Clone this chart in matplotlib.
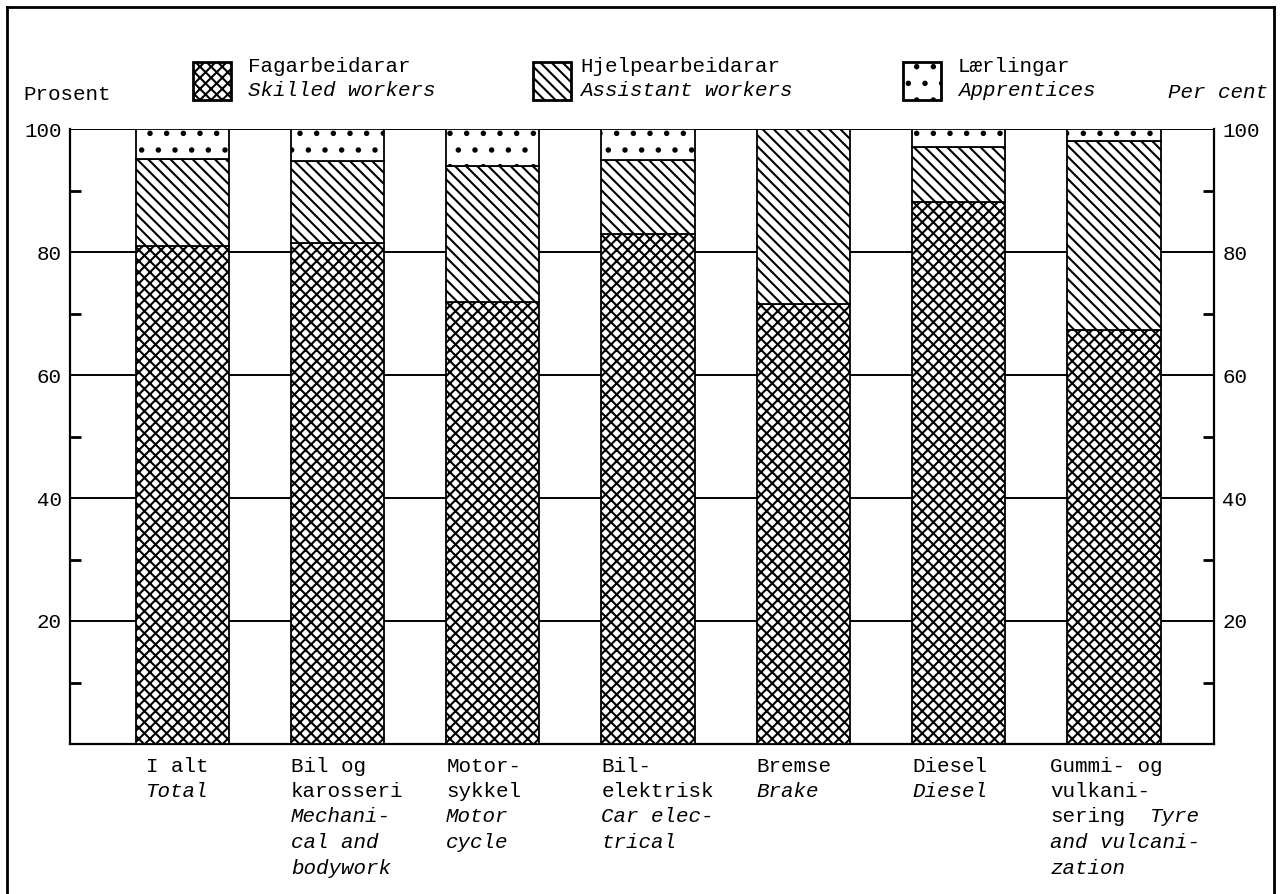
import matplotlib
matplotlib.use("Agg")
import matplotlib.pyplot as plt
import numpy as np
from matplotlib import transforms
from matplotlib.lines import Line2D
from matplotlib.patches import Rectangle

plt.rcParams["font.family"] = ["Liberation Mono", "DejaVu Sans Mono"]
plt.rcParams["hatch.linewidth"] = 1.5

# Data (per cent of workers in each trade)
categories = ["I alt", "Bil og karosseri", "Motorsykkel", "Bil-elektrisk",
              "Bremse", "Diesel", "Gummi- og vulkanisering"]
skilled = [80.9, 81.4, 71.8, 83.0, 71.5, 88.2, 67.3]
assistant = [14.2, 13.4, 22.2, 12.0, 28.5, 8.9, 30.8]
apprentices = [4.9, 5.2, 6.0, 5.0, 0.0, 2.9, 1.9]

# x-axis label lines: (normal text, italic text)
label_lines = [
    [("I alt", ""), ("", "Total")],
    [("Bil og", ""), ("karosseri", ""), ("", "Mechani-"), ("", "cal and"), ("", "bodywork")],
    [("Motor-", ""), ("sykkel", ""), ("", "Motor"), ("", "cycle")],
    [("Bil-", ""), ("elektrisk", ""), ("", "Car elec-"), ("", "trical")],
    [("Bremse", ""), ("", "Brake")],
    [("Diesel", ""), ("", "Diesel")],
    [("Gummi- og", ""), ("vulkani-", ""), ("sering", "Tyre"), ("", "and vulcani-"), ("", "zation")],
]
label_shift = [0.07, 0, 0, 0, 0, 0, -0.11]

legend_no = ["Fagarbeidarar", "Hjelpearbeidarar", "Lærlingar"]
legend_en = ["Skilled workers", "Assistant workers", "Apprentices"]
hatches = ["xxx", "\\\\\\", "."]

W, H = 1285, 894
FS = 15


def fx(px):
    return px / W


def fy(py):
    return 1 - py / H


def main():
    fig = plt.figure(figsize=(W / 100, H / 100), dpi=100)
    ax = fig.add_axes([fx(70), fy(744), (1214 - 70) / W, (744 - 129) / H])

    x = np.arange(len(categories))
    width = 0.6
    bottom2 = np.array(skilled)
    bottom3 = bottom2 + np.array(assistant)
    kw = dict(color="white", edgecolor="black", linewidth=1.3, zorder=3)
    ax.bar(x, skilled, width, hatch=hatches[0], **kw)
    ax.bar(x, assistant, width, bottom=bottom2, hatch=hatches[1], **kw)
    ax.bar(x, apprentices, width, bottom=bottom3, hatch=hatches[2], **kw)

    ax.set_xlim(-0.722, 6.644)
    ax.set_ylim(0, 100)
    for v in [20, 40, 60, 80, 100]:
        ax.axhline(v, color="black", lw=1.4, zorder=1)

    ax.spines["top"].set_visible(False)
    for s in ["left", "right", "bottom"]:
        ax.spines[s].set_linewidth(1.6)

    ax.set_xticks([])
    ax.set_yticks([20, 40, 60, 80, 100])
    ax.set_yticks([10, 30, 50, 70, 90], minor=True)
    ax.tick_params(axis="y", which="major", length=0, pad=6, labelsize=FS,
                   left=True, right=True, labelleft=True, labelright=True)
    ax.tick_params(axis="y", which="minor", direction="in", length=8, width=2,
                   left=True, right=True)

    # category labels below the bars
    trans = transforms.blended_transform_factory(ax.transData, fig.transFigure)
    char_pt = 0.6 * FS
    for i, lines in enumerate(label_lines):
        x0 = x[i] - width / 2 + label_shift[i]
        for j, (norm, ital) in enumerate(lines):
            y = fy(766 + 25.5 * j)
            if norm:
                ax.text(x0, y, norm, transform=trans, fontsize=FS, ha="left", va="center")
            if ital:
                col = len(norm) + 2 if norm else 0
                t = transforms.offset_copy(trans, fig=fig, x=col * char_pt, y=0, units="points")
                ax.text(x0, y, ital, transform=t, fontsize=FS, style="italic",
                        ha="left", va="center")

    # legend drawn by hand
    box_x = [193, 533, 903]
    text_x = [248, 580, 958]
    for bx, tx, hn, no, en in zip(box_x, text_x, hatches, legend_no, legend_en):
        fig.add_artist(Rectangle((fx(bx), fy(100)), 38 / W, 38 / H, transform=fig.transFigure,
                                 facecolor="white", edgecolor="black", lw=2, hatch=hn))
        fig.text(fx(tx), fy(67), no, fontsize=FS, ha="left", va="center")
        fig.text(fx(tx), fy(91), en, fontsize=FS, style="italic", ha="left", va="center")

    fig.text(fx(23), fy(95), "Prosent", fontsize=FS, ha="left", va="center")
    fig.text(fx(1268), fy(92), "Per cent", fontsize=FS, style="italic", ha="right", va="center")

    # page frame
    for xs, ys in [([7, 7], [894, 7]), ([7, 1274], [7, 7]), ([1274, 1274], [7, 894])]:
        fig.add_artist(Line2D([fx(v) for v in xs], [fy(v) for v in ys],
                              transform=fig.transFigure, color="black", lw=2))

    fig.savefig("out.png", dpi=100)


if __name__ == "__main__":
    main()
